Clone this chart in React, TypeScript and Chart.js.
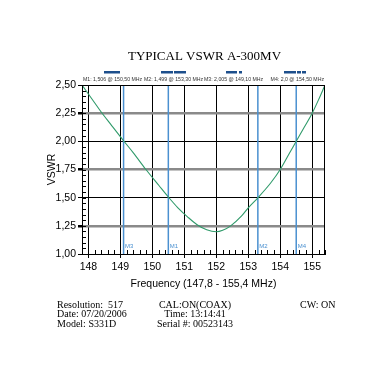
import React, { useEffect, useRef } from "react";
import { Chart, registerables } from "chart.js";
Chart.register(...registerables);

const chartTitle = "TYPICAL VSWR A-300MV";
const xTitle = "Frequency (147,8 - 155,4 MHz)";
const yTitle = "VSWR";

const freqs = [147.8, 148.0, 148.2, 148.4, 148.7, 149.1, 149.4, 149.8, 150.2, 150.5, 150.8, 151.1, 151.4, 151.7, 152.0, 152.2, 152.45, 152.8, 153.0, 153.3, 153.7, 154.0, 154.3, 154.5, 154.75, 155.0, 155.2, 155.4];
const vswr = [2.5, 2.42, 2.34, 2.26, 2.15, 2.005, 1.9, 1.75, 1.61, 1.506, 1.41, 1.33, 1.26, 1.215, 1.197, 1.21, 1.25, 1.34, 1.41, 1.499, 1.63, 1.75, 1.9, 2.0, 2.125, 2.25, 2.37, 2.5];

const xMin = 147.8;
const xMax = 155.4;
const xTicks = [148, 149, 150, 151, 152, 153, 154, 155];
const yTicks = [1.0, 1.25, 1.5, 1.75, 2.0, 2.25, 2.5];
const yMajorBlack = [1.0, 1.5, 2.0, 2.5];

const markerNames = ["M1", "M2", "M3", "M4"];
const markerFreqs = [150.5, 153.3, 149.1, 154.5];
const markerReadouts = ["1,506", "1,499", "2,005", "2,0"];
const markerFreqLabels = ["150,50", "153,30", "149,10", "154,50"];

const footerLeft = ["Resolution:  517", "Date: 07/20/2006", "Model: S331D"];
const footerMid = ["CAL:ON(COAX)", "Time: 13:14:41", "Serial #: 00523143"];
const footerRight = ["CW: ON"];

const SANS = "'Liberation Sans', Arial, sans-serif";
const SERIF = "'Liberation Serif', 'Times New Roman', serif";
const MARKER_BLUE = "#4a90d0";

const fmt2 = (v: number) => v.toFixed(2).replace(".", ",");

const decorPlugin = {
  id: "decor",
  beforeDatasetsDraw(chart: any) {
    const { ctx, chartArea } = chart;
    const xs = chart.scales.x;
    const ys = chart.scales.y;
    ctx.save();
    ctx.strokeStyle = "#000";
    ctx.lineWidth = 1;
    for (let i = 0; i <= 30; i++) {
      const v = 1 + i * 0.05;
      const y = Math.round(ys.getPixelForValue(v)) + 0.5;
      ctx.beginPath();
      ctx.moveTo(chartArea.left, y);
      ctx.lineTo(chartArea.left + 4, y);
      ctx.stroke();
    }
    for (let i = 0; i <= 38; i++) {
      const v = xMin + 0.2 * i;
      const x = Math.round(xs.getPixelForValue(v)) + 0.5;
      ctx.beginPath();
      ctx.moveTo(x, chartArea.bottom);
      ctx.lineTo(x, chartArea.bottom - 4);
      ctx.stroke();
    }
    ctx.restore();
  },
  afterDraw(chart: any) {
    const { ctx, chartArea } = chart;
    const xs = chart.scales.x;
    ctx.save();
    ctx.strokeStyle = "#000";
    ctx.lineWidth = 1;
    ctx.strokeRect(Math.round(chartArea.left) + 0.5, Math.round(chartArea.top) + 0.5, Math.round(chartArea.right - chartArea.left) - 1, Math.round(chartArea.bottom - chartArea.top));

    const cx = (chartArea.left + chartArea.right) / 2;
    ctx.fillStyle = "#000";
    ctx.font = `13px ${SERIF}`;
    ctx.textAlign = "center";
    ctx.textBaseline = "middle";
    ctx.fillText(chartTitle, cx + 1, 57);

    ctx.fillStyle = "#1d4f8c";
    const bars = [[22, 38], [79, 91], [92, 104], [144, 155], [157, 160], [202, 214], [215, 219], [220, 224]];
    bars.forEach(([a, b]) => ctx.fillRect(chartArea.left + a, 71, b - a, 2.5));

    ctx.fillStyle = "#333";
    ctx.font = `5.2px ${SANS}`;
    ctx.textBaseline = "middle";
    const starts = [1, 62, 122];
    markerNames.forEach((n, i) => {
      const s = `${n}: ${markerReadouts[i]} @ ${markerFreqLabels[i]} MHz`;
      if (i < 3) {
        ctx.textAlign = "left";
        ctx.fillText(s, chartArea.left + starts[i], 80);
      } else {
        ctx.textAlign = "right";
        ctx.fillText(s, chartArea.right - 1, 80);
      }
    });

    ctx.fillStyle = MARKER_BLUE;
    ctx.textAlign = "left";
    ctx.font = `6px ${SANS}`;
    markerNames.forEach((n, i) => {
      const x = xs.getPixelForValue(markerFreqs[i]);
      ctx.fillText(n, x + 1.5, chartArea.bottom - 8);
    });

    ctx.fillStyle = "#000";
    ctx.font = `10px ${SERIF}`;
    const rows = [305, 314.5, 324];
    footerLeft.forEach((t, i) => { ctx.textAlign = "left"; ctx.fillText(t, 57, rows[i]); });
    footerMid.forEach((t, i) => { ctx.textAlign = "center"; ctx.fillText(t, 195, rows[i]); });
    footerRight.forEach((t, i) => { ctx.textAlign = "left"; ctx.fillText(t, 300, rows[i]); });
    ctx.restore();
  },
};

export default function App() {
  const ref = useRef<HTMLCanvasElement | null>(null);
  useEffect(() => {
    if (!ref.current) return;
    const curve = freqs.map((f, i) => ({ x: f, y: vswr[i] }));
    const markerSets = markerFreqs.map((f, i) => ({
      label: markerNames[i],
      data: [{ x: f, y: yTicks[0] }, { x: f, y: yTicks[yTicks.length - 1] }],
      borderColor: MARKER_BLUE,
      borderWidth: 1.5,
      pointRadius: 0,
      showLine: true,
    }));
    const chart = new Chart(ref.current, {
      type: "line",
      data: {
        datasets: [
          {
            label: "VSWR",
            data: curve,
            borderColor: "#2f9a6a",
            borderWidth: 1.1,
            pointRadius: 0,
            cubicInterpolationMode: "monotone",
          } as any,
          ...markerSets,
        ],
      },
      options: {
        animation: false,
        responsive: false,
        devicePixelRatio: 1,
        layout: { padding: { left: 0, right: 57, top: 85, bottom: 88 } },
        plugins: { legend: { display: false }, tooltip: { enabled: false }, title: { display: false } },
        scales: {
          x: {
            type: "linear",
            min: xMin,
            max: xMax,
            afterBuildTicks: (s: any) => { s.ticks = xTicks.map((v) => ({ value: v })); },
            afterFit: (s: any) => { s.height = 40; },
            ticks: { color: "#000", font: { family: SANS, size: 10.5 }, padding: 3, maxRotation: 0, callback: (v: any) => String(v) },
            grid: { color: "#000", lineWidth: 1, tickLength: 4, tickColor: "#000" },
            border: { display: true, color: "#000", width: 1 },
            title: { display: true, text: xTitle, color: "#000", font: { family: SANS, size: 10.5 }, padding: { top: 0, bottom: 4 } },
          },
          y: {
            type: "linear",
            min: 1,
            max: 2.5,
            afterBuildTicks: (s: any) => { s.ticks = yTicks.map((v) => ({ value: v })); },
            afterFit: (s: any) => { s.width = 82; },
            ticks: { color: "#000", font: { family: SANS, size: 10.5 }, padding: 2, callback: (v: any) => fmt2(Number(v)) },
            grid: {
              color: (c: any) => (yMajorBlack.some((m) => Math.abs(m - c.tick?.value) < 1e-6) ? "#000" : "#8a8a8a"),
              lineWidth: (c: any) => (yMajorBlack.some((m) => Math.abs(m - c.tick?.value) < 1e-6) ? 1 : 2.5),
              tickLength: 4,
              tickColor: "#000",
            },
            border: { display: true, color: "#000", width: 1 },
            title: { display: true, text: yTitle, color: "#000", font: { family: SANS, size: 10.5 }, padding: { top: 46, bottom: 0 } },
          },
        },
      } as any,
      plugins: [decorPlugin],
    });
    return () => chart.destroy();
  }, []);
  return (
    <div style={{ position: "absolute", left: 0, top: 0, width: 382, height: 382, background: "#fff" }}>
      <canvas ref={ref} width={382} height={382} style={{ width: 382, height: 382, display: "block" }} />
    </div>
  );
}
